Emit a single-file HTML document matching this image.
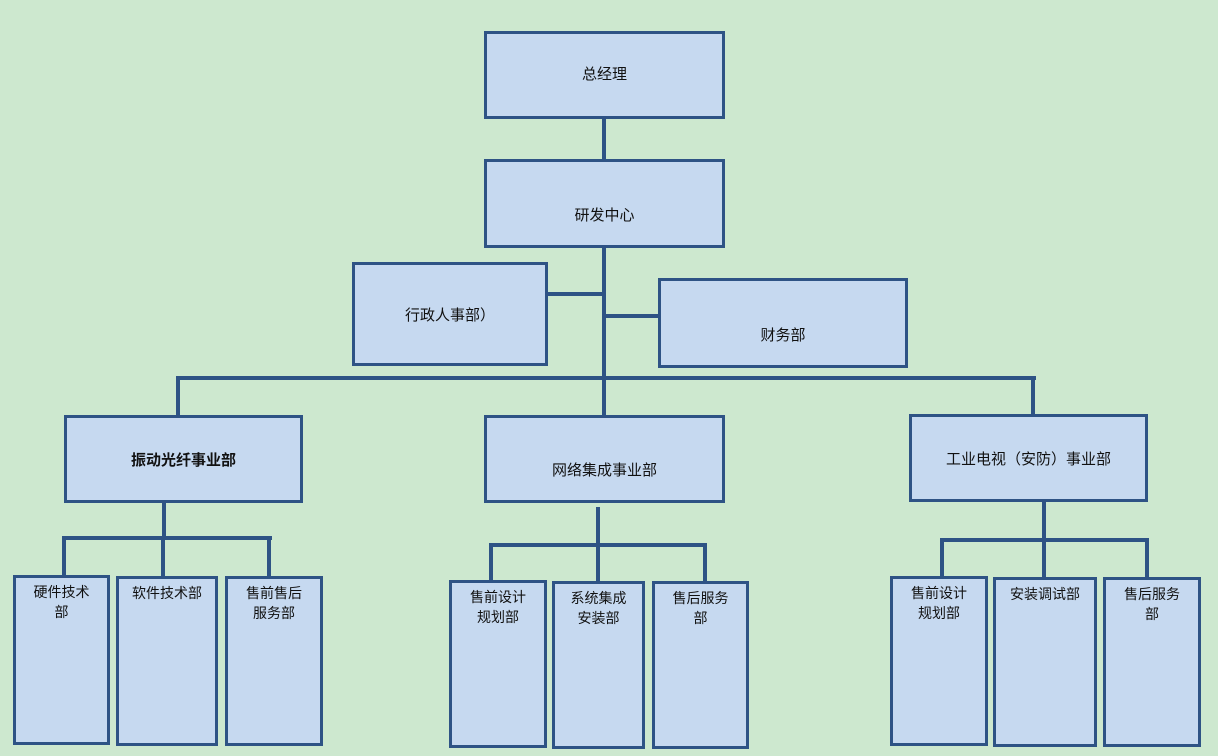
<!DOCTYPE html>
<html><head><meta charset="utf-8"><style>
body{margin:0;width:1218px;height:756px;background:#cde8cf;position:relative;overflow:hidden;font-family:"Liberation Sans","Noto Sans CJK SC",sans-serif;}
.b{position:absolute;box-sizing:border-box;background:#c6d9f0;border:3px solid #2e5385;display:flex;align-items:center;justify-content:center;text-align:center;font-size:15px;color:#111;}
.s{align-items:flex-start;padding-top:4px;line-height:20px;font-size:14px;}
.l{position:absolute;background:#2e5385;}
</style></head><body>
<div class="l" style="left:602px;top:118px;width:4px;height:42px"></div>
<div class="l" style="left:602px;top:247px;width:4px;height:168px"></div>
<div class="l" style="left:547px;top:292px;width:57px;height:4px"></div>
<div class="l" style="left:604px;top:314px;width:54px;height:4px"></div>
<div class="l" style="left:176px;top:376px;width:860px;height:4px"></div>
<div class="l" style="left:176px;top:376px;width:4px;height:40px"></div>
<div class="l" style="left:1031px;top:376px;width:4px;height:40px"></div>
<div class="l" style="left:162px;top:502px;width:4px;height:38px"></div>
<div class="l" style="left:62px;top:536px;width:210px;height:4px"></div>
<div class="l" style="left:62px;top:536px;width:4px;height:40px"></div>
<div class="l" style="left:161px;top:536px;width:4px;height:40px"></div>
<div class="l" style="left:267px;top:536px;width:4px;height:40px"></div>
<div class="l" style="left:596px;top:507px;width:4px;height:40px"></div>
<div class="l" style="left:489px;top:543px;width:218px;height:4px"></div>
<div class="l" style="left:489px;top:543px;width:4px;height:38px"></div>
<div class="l" style="left:596px;top:543px;width:4px;height:38px"></div>
<div class="l" style="left:703px;top:543px;width:4px;height:38px"></div>
<div class="l" style="left:1042px;top:501px;width:4px;height:40px"></div>
<div class="l" style="left:940px;top:538px;width:209px;height:4px"></div>
<div class="l" style="left:940px;top:538px;width:4px;height:40px"></div>
<div class="l" style="left:1042px;top:538px;width:4px;height:40px"></div>
<div class="l" style="left:1145px;top:538px;width:4px;height:40px"></div>

<div class="b" style="left:484px;top:31px;width:241px;height:88px;padding-bottom:4px">总经理</div>
<div class="b" style="left:484px;top:159px;width:241px;height:89px;padding-top:22px">研发中心</div>
<div class="b" style="left:352px;top:262px;width:196px;height:104px">行政人事部）</div>
<div class="b" style="left:658px;top:278px;width:250px;height:90px;padding-top:22px">财务部</div>
<div class="b" style="left:64px;top:415px;width:239px;height:88px;font-weight:bold">振动光纤事业部</div>
<div class="b" style="left:484px;top:415px;width:241px;height:88px;padding-top:20px">网络集成事业部</div>
<div class="b" style="left:909px;top:414px;width:239px;height:88px">工业电视（安防）事业部</div>

<div class="b s" style="left:13px;top:575px;width:97px;height:170px">硬件技术<br>部</div>
<div class="b s" style="left:116px;top:576px;width:102px;height:170px">软件技术部</div>
<div class="b s" style="left:225px;top:576px;width:98px;height:170px">售前售后<br>服务部</div>
<div class="b s" style="left:449px;top:580px;width:98px;height:168px">售前设计<br>规划部</div>
<div class="b s" style="left:552px;top:581px;width:93px;height:168px">系统集成<br>安装部</div>
<div class="b s" style="left:652px;top:581px;width:97px;height:168px">售后服务<br>部</div>
<div class="b s" style="left:890px;top:576px;width:98px;height:170px">售前设计<br>规划部</div>
<div class="b s" style="left:993px;top:577px;width:104px;height:170px">安装调试部</div>
<div class="b s" style="left:1103px;top:577px;width:98px;height:170px">售后服务<br>部</div>
</body></html>
